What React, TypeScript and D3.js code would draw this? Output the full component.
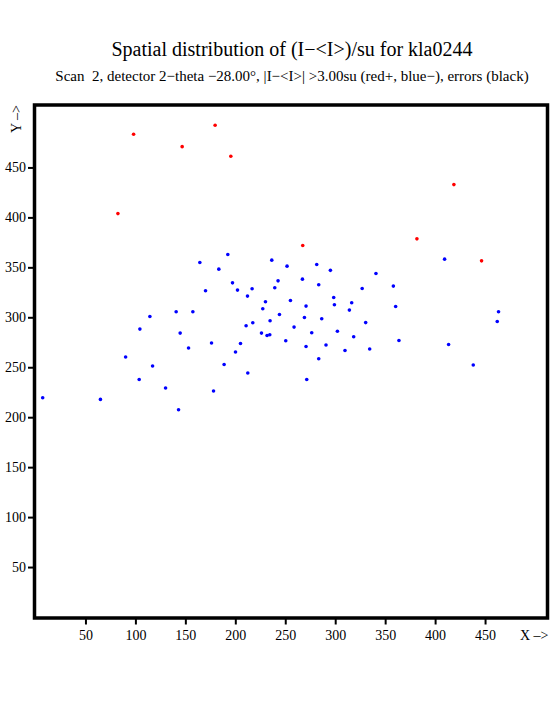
import React, { useRef, useEffect } from 'react'
import * as d3 from 'd3'

// detector pixel positions of the outliers
const redX = [98.2, 179.8, 146.8, 195.5, 82.5, 267.5, 418.8, 381.8, 446.5]
const redY = [483.2, 492.2, 470.8, 461.2, 403.8, 371.8, 432.8, 378.5, 356.5]

const blueX = [
  192.5, 164.5, 183.5, 197.2, 202.2, 216.8, 170.2, 212.2, 140.8, 157.5,
  114.5, 104.5, 144.8, 210.8, 217.5, 176.2, 205.2, 153.2, 200.2, 90.2,
  117.2, 188.8, 212.5, 103.8, 130.2, 178.2, 65, 143.2, 7.2, 236.5,
  251.8, 281.5, 295.2, 242.8, 239.5, 267.2, 283.5, 327, 230.2, 255.2,
  270.8, 298.5, 299.2, 316.5, 314.2, 227.5, 244.2, 234.8, 269.2, 286.5,
  330.5, 258.8, 226.2, 231.8, 234.5, 276.5, 302.2, 318.5, 250.5, 270.8,
  290.8, 309.8, 334.5, 283.5, 271.5, 409.5, 340.8, 358.2, 360.5, 363.8,
  413.5, 438.2, 463.5, 462.2,
]
const blueY = [
  362.8, 354.8, 348.2, 334.5, 327.2, 328.5, 326.5, 321.2, 305.5, 305.5,
  300.8, 288.2, 284.2, 291.5, 294.5, 274.2, 273.8, 269.2, 265.2, 260.2,
  251.2, 252.8, 244.2, 237.8, 229.2, 226.2, 217.8, 207.5, 219.5, 357.2,
  351.2, 352.8, 347, 336.5, 329.5, 338.2, 332.5, 328.8, 315.5, 316.8,
  311.2, 319.8, 312.5, 314.5, 307.2, 308.5, 302.8, 296.5, 299.8, 298.5,
  294.7, 290.2, 284.2, 281.8, 282.5, 284.5, 286, 280.5, 276.5, 270.8,
  272.2, 266.7, 268.2, 258.5, 237.8, 358.2, 343.8, 331.2, 310.8, 276.8,
  272.8, 252.2, 305.5, 295.8,
]

const xTicks = [50, 100, 150, 200, 250, 300, 350, 400, 450]
const yTicks = [50, 100, 150, 200, 250, 300, 350, 400, 450]

const titleText = 'Spatial distribution of (I\u2212<I>)/su for kla0244'
const subtitleText =
  'Scan  2, detector 2\u2212theta \u221228.00\u00b0, |I\u2212<I>| >3.00su (red+, blue\u2212), errors (black)'

export default function App() {
  const ref = useRef<SVGSVGElement>(null)

  useEffect(() => {
    draw()
  }, [])

  const draw = () => {
    const width = 555
    const height = 725
    const left = 34.5
    const top = 105
    const size = 513
    const font = '"Liberation Serif", "Times New Roman", serif'

    const svg = d3.select(ref.current)
    svg.selectAll('*').remove()
    svg.attr('width', width).attr('height', height)

    const x = d3.scaleLinear().domain([0, 512]).range([left + 1, left + size - 0.5])
    const y = d3.scaleLinear().domain([0, 512]).range([top + size - 1, top + 0.5])

    svg
      .append('rect')
      .attr('width', width)
      .attr('height', height)
      .attr('fill', '#fff')

    svg
      .append('text')
      .attr('x', left + size / 2 + 1)
      .attr('y', 56)
      .attr('text-anchor', 'middle')
      .attr('font-family', font)
      .attr('font-size', 20)
      .text(titleText)

    svg
      .append('text')
      .attr('x', left + size / 2 + 1)
      .attr('y', 81)
      .attr('text-anchor', 'middle')
      .attr('font-family', font)
      .attr('font-size', 15)
      .style('white-space', 'pre')
      .text(subtitleText)

    // axes: ticks and labels only, the frame is drawn separately
    const gx = svg
      .append('g')
      .attr('transform', `translate(0,${top + size})`)
      .call(d3.axisBottom(x).tickValues(xTicks).tickSize(6.5).tickPadding(6))
    const gy = svg
      .append('g')
      .attr('transform', `translate(${left},0)`)
      .call(d3.axisLeft(y).tickValues(yTicks).tickSize(6.5).tickPadding(2))
    for (const g of [gx, gy]) {
      g.select('.domain').remove()
      g.selectAll('line').attr('stroke', '#000').attr('stroke-width', 2)
      g.selectAll('text')
        .attr('fill', '#000')
        .attr('font-family', font)
        .attr('font-size', 14)
    }

    svg
      .append('rect')
      .attr('x', left)
      .attr('y', top)
      .attr('width', size)
      .attr('height', size)
      .attr('fill', 'none')
      .attr('stroke', '#000')
      .attr('stroke-width', 3.5)

    svg
      .append('text')
      .attr('x', left + size + 1)
      .attr('y', 640)
      .attr('text-anchor', 'end')
      .attr('font-family', font)
      .attr('font-size', 14)
      .text('X \u2013>')

    svg
      .append('text')
      .attr('transform', `translate(21,${top}) rotate(-90)`)
      .attr('text-anchor', 'end')
      .attr('font-family', font)
      .attr('font-size', 14)
      .text('Y \u2013>')

    svg
      .append('g')
      .selectAll('circle')
      .data(blueX.map((d, i) => [d, blueY[i]]))
      .join('circle')
      .attr('cx', (d) => x(d[0]))
      .attr('cy', (d) => y(d[1]))
      .attr('r', 1.8)
      .attr('fill', '#0000ff')

    svg
      .append('g')
      .selectAll('circle')
      .data(redX.map((d, i) => [d, redY[i]]))
      .join('circle')
      .attr('cx', (d) => x(d[0]))
      .attr('cy', (d) => y(d[1]))
      .attr('r', 1.8)
      .attr('fill', '#ff0000')
  }

  return <svg ref={ref} style={{ position: 'absolute', left: 0, top: 0 }}></svg>
}
